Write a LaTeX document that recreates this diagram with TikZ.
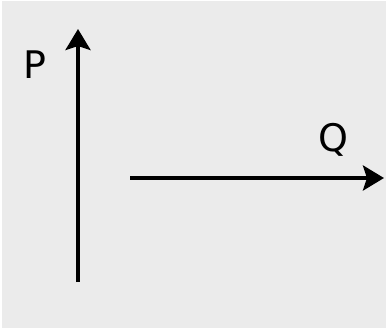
\documentclass[tikz,border=0pt]{standalone}
\usepackage{fontspec}
\setmainfont{DejaVu Sans}
\usetikzlibrary{arrows.meta}
\definecolor{bg}{RGB}{235,235,235}
\begin{document}
\begin{tikzpicture}[x=1pt,y=-1pt,
  axis/.style={line width=3.6pt,-{Stealth[length=21pt,width=25pt,inset=4pt]}},
  lbl/.style={font=\fontsize{38}{40}\selectfont,inner sep=0pt}]
\useasboundingbox (0,0) rectangle (387,329);
\fill[bg] (1.5,1.5) rectangle (385.5,327.5);
\coordinate (p0) at (78,282);
\coordinate (p1) at (78,29);
\coordinate (q0) at (130,178);
\coordinate (q1) at (384,178);
\draw[axis] (p0) -- (p1);
\draw[axis] (q0) -- (q1);
\node[lbl] (P) at (35,65) {P};
\node[lbl] (Q) at (333,140) {Q};
\end{tikzpicture}
\end{document}
